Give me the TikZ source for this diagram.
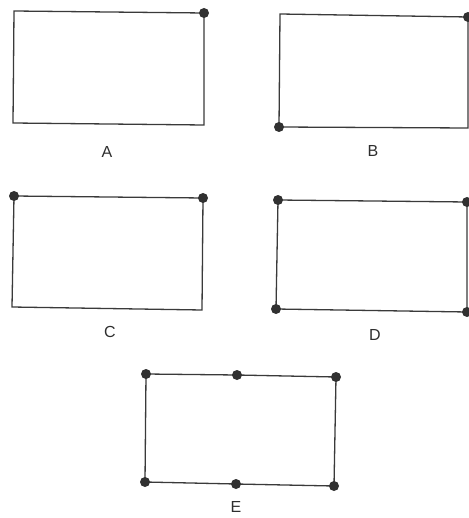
\documentclass[tikz,border=0pt]{standalone}
\usepackage{fontspec}
\setmainfont{Liberation Sans}
\definecolor{ink}{HTML}{3A3A3A}
\begin{document}
\begin{tikzpicture}[x=1pt,y=-1pt,
  frame/.style={draw=ink,line width=1.3pt,line join=miter},
  dot/.style={circle,fill=ink!85!black,inner sep=0pt,minimum size=10pt},
  lbl/.style={font=\fontsize{16}{19}\selectfont,text=ink!80!black}]
\useasboundingbox (0,0) rectangle (468,518);
% A
\coordinate (a1) at (14,11); \coordinate (a2) at (204,13);
\coordinate (a3) at (204,125); \coordinate (a4) at (13,123);
\draw[frame] (a1) -- (a2) -- (a3) -- (a4) -- cycle;
\node[dot] at (a2) {};
\node[lbl] (la) at (107,152) {A};
% B
\coordinate (b1) at (280,14); \coordinate (b2) at (468,17);
\coordinate (b3) at (468,128); \coordinate (b4) at (279,127);
\draw[frame] (b1) -- (b2) -- (b3) -- (b4) -- cycle;
\node[dot] at (b2) {};
\node[dot] at (b4) {};
\node[lbl] (lb) at (373,151) {B};
% C
\coordinate (c1) at (14,196); \coordinate (c2) at (203,198);
\coordinate (c3) at (202,310); \coordinate (c4) at (12,307);
\draw[frame] (c1) -- (c2) -- (c3) -- (c4) -- cycle;
\node[dot] at (c1) {};
\node[dot] at (c2) {};
\node[lbl] (lc) at (110,332) {C};
% D
\coordinate (d1) at (278,200); \coordinate (d2) at (467,202);
\coordinate (d3) at (467,312); \coordinate (d4) at (276,309);
\draw[frame] (d1) -- (d2) -- (d3) -- (d4) -- cycle;
\node[dot] at (d1) {};
\node[dot] at (d2) {};
\node[dot] at (d3) {};
\node[dot] at (d4) {};
\node[lbl] (ld) at (375,335) {D};
% E
\coordinate (e1) at (146,374); \coordinate (e5) at (237,375);
\coordinate (e2) at (336,377); \coordinate (e3) at (334,486);
\coordinate (e6) at (236,484); \coordinate (e4) at (145,482);
\draw[frame] (e1) -- (e5) -- (e2) -- (e3) -- (e6) -- (e4) -- cycle;
\foreach \p in {e1,e2,e3,e4,e5,e6} \node[dot] at (\p) {};
\node[lbl] (le) at (236,507) {E};
\end{tikzpicture}
\end{document}
